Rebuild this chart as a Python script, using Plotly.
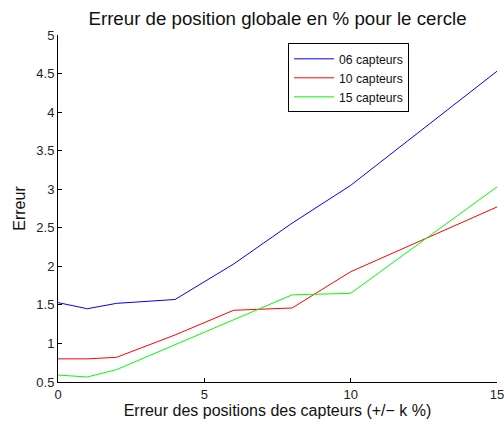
import plotly.graph_objects as go

x_vals = [0, 1, 2, 4, 6, 8, 10, 15]
y_06 = [1.53, 1.45, 1.52, 1.57, 2.03, 2.56, 3.05, 4.53]
y_10 = [0.80, 0.80, 0.82, 1.11, 1.43, 1.46, 1.93, 2.77]
y_15 = [0.59, 0.565, 0.66, 0.98, 1.31, 1.63, 1.65, 3.03]
names = ["06 capteurs", "10 capteurs", "15 capteurs"]
colors = ["#0000ff", "#ff0000", "#00ff00"]
y_ticks = [0.5, 1, 1.5, 2, 2.5, 3, 3.5, 4, 4.5, 5]
y_tick_text = ["0.5", "1", "1.5", "2", "2.5", "3", "3.5", "4", "4.5", "5"]
x_ticks = [0, 5, 10, 15]

fig = go.Figure()
for name, ys, c in zip(names, [y_06, y_10, y_15], colors):
    fig.add_trace(go.Scatter(x=x_vals, y=ys, mode="lines", name=name,
                             line=dict(color=c, width=1)))

font = "Liberation Sans, Arial, sans-serif"
fig.update_layout(
    width=504, height=423,
    margin=dict(l=58, r=7, t=35, b=41, autoexpand=False),
    paper_bgcolor="white", plot_bgcolor="white",
    font=dict(family=font, size=13, color="#222"),
    title=dict(text="Erreur de position globale en % pour le cercle",
               x=0.5, xanchor="center", xref="paper",
               y=1 - 18.5 / 423, yanchor="middle", yref="container",
               font=dict(size=18.7, color="#111")),
    showlegend=True,
    legend=dict(x=0.524, y=0.976, xanchor="left", yanchor="top",
                bordercolor="black", borderwidth=1, bgcolor="white",
                font=dict(size=12.2, color="#111"), tracegroupgap=0,
                itemwidth=40),
    xaxis=dict(range=[0, 15], tickvals=x_ticks, showgrid=False, automargin=False,
               zeroline=False, showline=True, linecolor="black", linewidth=1,
               ticks="inside", ticklen=4, tickcolor="black",
               ticklabeloverflow="allow",
               title=dict(text="Erreur des positions des capteurs (+/\u2212 k %)",
                          font=dict(size=16, color="#111"), standoff=2)),
    yaxis=dict(range=[0.5, 5], tickvals=y_ticks, ticktext=y_tick_text,
               showgrid=False, zeroline=False, showline=True, linecolor="black",
               linewidth=1, ticks="inside", ticklen=4, tickcolor="black",
               automargin=False, ticklabeloverflow="allow",
               title=dict(text="Erreur", font=dict(size=16, color="#111"), standoff=6)),
)

fig.write_html("out.html", config={"displayModeBar": False},
               post_script="document.body.style.margin='0';")
